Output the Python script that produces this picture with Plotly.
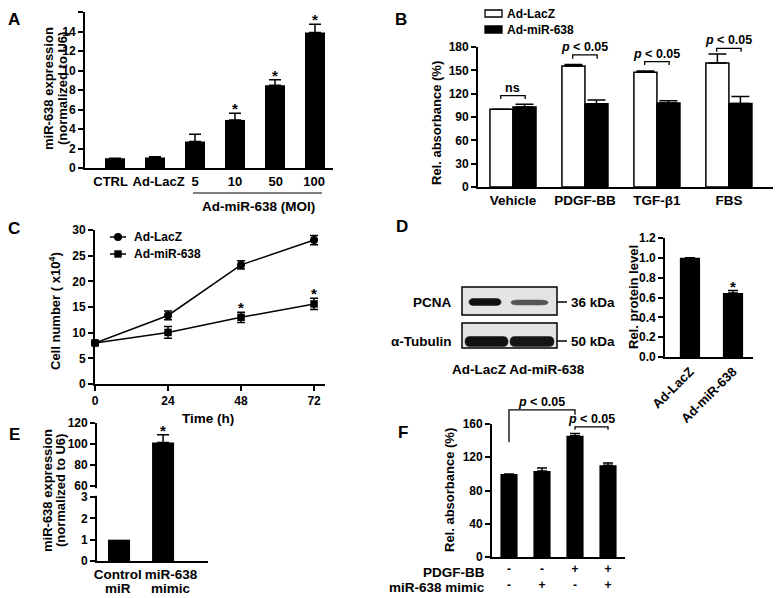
import plotly.graph_objects as go

W, H = 781, 598
OFF = 8  # the page body adds an 8 px margin; layout positions are compensated for it
FONT = "Liberation Sans, Arial, Helvetica, sans-serif"

# ---------------- data ----------------
a_cats = ["CTRL", "Ad-LacZ", "5", "10", "50", "100"]
a_vals = [1.0, 1.08, 2.72, 4.93, 8.5, 13.9]
a_errs = [0.0, 0.08, 0.75, 0.68, 0.55, 0.85]
a_sig = [False, False, False, True, True, True]

b_cats = ["Vehicle", "PDGF-BB", "TGF-β1", "FBS"]
b_lacz = [100, 155.5, 147.5, 159.5]
b_lacz_err = [0, 2, 1.5, 11.5]
b_mir = [103, 107, 108, 107.5]
b_mir_err = [3.5, 5, 3, 9]
b_sig_text = ["ns", "<i>p</i> &lt; 0.05", "<i>p</i> &lt; 0.05", "<i>p</i> &lt; 0.05"]
b_bracket_top = [117.4, 170.0, 161.3, 178.3]
b_bracket_leg = [113.1, 165.0, 157.0, 174.0]

c_time = [0, 24, 48, 72]
c_lacz = [8, 13.35, 23.2, 28.05]
c_lacz_err = [0.4, 0.85, 0.8, 0.9]
c_mir = [8, 10.05, 13.0, 15.6]
c_mir_err = [0.4, 1.15, 1.0, 1.1]
c_sig = [False, False, True, True]

d_cats = ["Ad-LacZ", "Ad-miR-638"]
d_vals = [1.0, 0.645]
d_errs = [0.0, 0.025]
d_sig = [False, True]

e_cats_line1 = ["Control", "miR-638"]
e_cats_line2 = ["miR", "mimic"]
e_vals = [1.0, 101.5]
e_errs = [0.0, 7.3]
e_sig = [False, True]

f_vals = [100, 103.5, 146, 110.5]
f_errs = [0, 3.5, 2.5, 2.5]
f_pdgf = ["-", "-", "+", "+"]
f_mimic = ["-", "+", "-", "+"]
f_row_labels = ["PDGF-BB", "miR-638 mimic"]
# brackets: (x_left, x_right, top, left_leg_bottom, right_leg_bottom)
f_brackets = [(0, 2, 177.0, 138.0, 171.0), (2, 3, 156.5, 153.0, 153.0)]

# label positions along the category axes (layout, not data)
a_label_pos = [-0.11, 1.09, 2, 3, 4.02, 4.98]
e_label_pos = [-0.03, 1.18]

# ---------------- layout helpers ----------------
def fx(px):
    return (px - OFF) / W


def fy(py):
    return 1 - (py - OFF) / H


def FT(size, **kw):
    d = dict(family=FONT, size=size, color="black", weight="bold")
    d.update(kw)
    return d


PANELS = {
    "A": dict(x0=85, x1=333, yt=12, yb=168, xr=[-0.75, 5.45], yr=[0, 16]),
    "B": dict(x0=478, x1=780, yt=47, yb=187, xr=[-0.486, 3.71], yr=[0, 180]),
    "C": dict(x0=95, x1=325, yt=230, yb=384, xr=[0, 75.6], yr=[0, 30]),
    "D": dict(x0=665, x1=753, yt=238, yb=357, xr=[-0.58, 1.465], yr=[0, 1.2]),
    "E": dict(x0=97, x1=208, yt=497, yb=561, xr=[-0.5, 2.02], yr=[0, 3]),
    "E2": dict(x0=97, x1=208, yt=423, yb=497, xr=[-0.5, 2.02], yr=[49.52, 120]),
    "F": dict(x0=492, x1=625, yt=424, yb=557, xr=[-0.515, 3.515], yr=[0, 160]),
}
AX = {"A": "", "B": "2", "C": "3", "D": "4", "E": "5", "E2": "6", "F": "7"}


def to_px(p, xv, yv):
    P = PANELS[p]
    xpx = P["x0"] + (xv - P["xr"][0]) / (P["xr"][1] - P["xr"][0]) * (P["x1"] - P["x0"])
    ypx = P["yb"] - (yv - P["yr"][0]) / (P["yr"][1] - P["yr"][0]) * (P["yb"] - P["yt"])
    return xpx, ypx


def to_paper(p, xv, yv):
    xpx, ypx = to_px(p, xv, yv)
    return fx(xpx), fy(ypx)


base = dict(showline=True, linecolor="black", linewidth=1.8, showgrid=False, zeroline=False,
            ticks="outside", ticklen=5, tickwidth=1.5, tickcolor="black",
            tickfont=FT(12), fixedrange=True, automargin=False)

axes = {}
for p, P in PANELS.items():
    n = AX[p]
    axes["xaxis" + n] = dict(domain=[fx(P["x0"]), fx(P["x1"])], range=P["xr"], anchor="y" + n, **base)
    axes["yaxis" + n] = dict(domain=[fy(P["yb"]), fy(P["yt"])], range=P["yr"], anchor="x" + n, **base)

# panel specific axis settings
axes["xaxis"].update(ticks="", tickvals=a_label_pos, ticktext=a_cats, tickfont=FT(13), tickangle=0)
axes["yaxis"].update(dtick=2, tick0=0)
axes["xaxis2"].update(ticks="", tickvals=list(range(len(b_cats))), ticktext=b_cats, tickfont=FT(13.5), tickangle=0)
axes["yaxis2"].update(dtick=30, tick0=0)
axes["xaxis3"].update(tickvals=c_time, tickangle=0)
axes["yaxis3"].update(dtick=5, tick0=0)
axes["xaxis4"].update(ticks="", tickvals=list(range(len(d_cats))), ticktext=d_cats, tickangle=-45, tickfont=FT(13))
axes["yaxis4"].update(dtick=0.2, tick0=0, tickformat=".1f")
axes["xaxis5"].update(ticks="", tickvals=e_label_pos, ticktext=e_cats_line1, tickfont=FT(13.5), tickangle=0)
axes["yaxis5"].update(dtick=1, tick0=0)
axes["xaxis6"].update(visible=False)
axes["yaxis6"].update(tickvals=[60, 80, 100, 120])
axes["xaxis7"].update(ticks="", tickvals=list(range(len(f_vals))), tickangle=0,
                      ticktext=[f"{a}<br>{b}" for a, b in zip(f_pdgf, f_mimic)], tickfont=FT(12))
axes["yaxis7"].update(dtick=40, tick0=0)


def err(arr, width):
    return dict(type="data", array=arr, arrayminus=[0] * len(arr), symmetric=False,
                color="black", thickness=1.5, width=width)


fig = go.Figure()

# ---- A ----
fig.add_trace(go.Bar(x=list(range(len(a_vals))), y=a_vals, width=0.5, marker=dict(color="black", line=dict(width=0)),
                     error_y=err(a_errs, 6), xaxis="x", yaxis="y", name="A"))
# ---- B ----
bx = list(range(len(b_cats)))
fig.add_trace(go.Bar(x=bx, y=b_lacz, offset=-0.32, width=0.32,
                     marker=dict(color="white", line=dict(color="black", width=1.5)),
                     error_y=err(b_lacz_err, 9), xaxis="x2", yaxis="y2", name="Ad-LacZ"))
fig.add_trace(go.Bar(x=bx, y=b_mir, offset=0.0, width=0.32,
                     marker=dict(color="black", line=dict(color="black", width=1.5)),
                     error_y=err(b_mir_err, 9), xaxis="x2", yaxis="y2", name="Ad-miR-638"))
# ---- C ----
fig.add_trace(go.Scatter(x=c_time, y=c_lacz, mode="lines+markers", cliponaxis=False,
                         line=dict(color="black", width=1.5), marker=dict(symbol="circle", size=8, color="black"),
                         error_y=dict(type="data", array=c_lacz_err, color="black", thickness=1.5, width=4),
                         xaxis="x3", yaxis="y3", name="Ad-LacZ"))
fig.add_trace(go.Scatter(x=c_time, y=c_mir, mode="lines+markers", cliponaxis=False,
                         line=dict(color="black", width=1.5), marker=dict(symbol="square", size=7.5, color="black"),
                         error_y=dict(type="data", array=c_mir_err, color="black", thickness=1.5, width=4),
                         xaxis="x3", yaxis="y3", name="Ad-miR-638"))
# ---- D ----
fig.add_trace(go.Bar(x=list(range(len(d_vals))), y=d_vals, width=0.47, marker=dict(color="black", line=dict(width=0)),
                     error_y=err(d_errs, 5), xaxis="x4", yaxis="y4", name="D"))
# ---- E (broken axis) ----
ex = list(range(len(e_vals)))
fig.add_trace(go.Bar(x=ex, y=e_vals, width=0.5, marker=dict(color="black", line=dict(width=0)),
                     xaxis="x5", yaxis="y5", name="E low"))
fig.add_trace(go.Bar(x=ex, y=e_vals, width=0.5, marker=dict(color="black", line=dict(width=0)),
                     error_y=err(e_errs, 6), xaxis="x6", yaxis="y6", name="E high"))
# ---- F ----
fig.add_trace(go.Bar(x=list(range(len(f_vals))), y=f_vals, width=0.52, marker=dict(color="black", line=dict(width=0)),
                     error_y=err(f_errs, 5), xaxis="x7", yaxis="y7", name="F"))

ann = []
shapes = []


def text_px(x, y, t, size, xanchor="center", yanchor="middle", angle=0, yshift=0, **kw):
    ann.append(dict(x=fx(x), y=fy(y), xref="paper", yref="paper", text=t, showarrow=False,
                    xanchor=xanchor, yanchor=yanchor, textangle=angle, yshift=yshift, font=FT(size, **kw)))


def line_px(x0, y0, x1, y1, w=1.5):
    shapes.append(dict(type="line", xref="paper", yref="paper", x0=fx(x0), y0=fy(y0), x1=fx(x1), y1=fy(y1),
                       line=dict(color="black", width=w)))


def star(p, xv, yv):
    xpx, ypx = to_px(p, xv, yv)
    text_px(xpx, ypx, "*", 15, yanchor="bottom", yshift=-6)


# panel letters (A, B sit against the top edge)
text_px(14, 8, "A", 17, yanchor="top")
text_px(401, 8, "B", 17, yanchor="top")
for L, (x, y) in {"C": (14, 228), "D": (402, 226), "E": (14, 434), "F": (403, 432)}.items():
    text_px(x, y, L, 17)

# A annotations
text_px(48, 89, "miR-638 expression", 13, angle=-90)
text_px(62, 89, "(normalized to U6)", 13, angle=-90)
line_px(193, 193, 322, 193, 1.2)
text_px(258, 206, "Ad-miR-638 (MOI)", 13.5)
for i, s in enumerate(a_sig):
    if s:
        star("A", i, a_vals[i] + a_errs[i])

# B annotations
text_px(437, 123, "Rel. absorbance (%)", 13, angle=-90)
for i in range(len(b_cats)):
    xl, yt = to_paper("B", i - 0.17, b_bracket_top[i])
    xr_, yl = to_paper("B", i + 0.17, b_bracket_leg[i])
    shapes.append(dict(type="path", xref="paper", yref="paper",
                       path=f"M{xl},{yl} L{xl},{yt} L{xr_},{yt} L{xr_},{yl}",
                       line=dict(color="black", width=1.3)))
    cx, cy = to_px("B", i, b_bracket_top[i])
    text_px(cx, cy, b_sig_text[i], 12.5, yanchor="bottom", yshift=-1)
# B legend
shapes.append(dict(type="rect", xref="paper", yref="paper", x0=fx(485), x1=fx(502), y0=fy(17), y1=fy(10),
                   fillcolor="white", line=dict(color="black", width=1.3)))
shapes.append(dict(type="rect", xref="paper", yref="paper", x0=fx(485), x1=fx(502), y0=fy(33), y1=fy(26),
                   fillcolor="black", line=dict(color="black", width=1.3)))
text_px(505, 14, "Ad-LacZ", 12, xanchor="left")
text_px(505, 30, "Ad-miR-638", 12, xanchor="left")

# C annotations
text_px(55, 311, "Cell number ( x10<sup>4</sup>)", 13, angle=-90)
text_px(208, 418, "Time (h)", 13.5)
for i, s in enumerate(c_sig):
    if s:
        star("C", c_time[i], c_mir[i] + c_mir_err[i])
line_px(110, 237, 126, 237, 1.5)
shapes.append(dict(type="circle", xref="paper", yref="paper", x0=fx(114), x1=fx(122), y0=fy(241), y1=fy(233),
                   fillcolor="black", line=dict(color="black", width=0)))
text_px(132, 237, "Ad-LacZ", 12, xanchor="left")
line_px(110, 254, 126, 254, 1.5)
shapes.append(dict(type="rect", xref="paper", yref="paper", x0=fx(114.3), x1=fx(121.7), y0=fy(257.7), y1=fy(250.3),
                   fillcolor="black", line=dict(color="black", width=0)))
text_px(132, 254, "Ad-miR-638", 12, xanchor="left")

# D blot (illustration)
for (y0, y1) in [(287, 315), (323, 348)]:
    shapes.append(dict(type="rect", xref="paper", yref="paper", x0=fx(462), x1=fx(557), y0=fy(y1), y1=fy(y0),
                       fillcolor="#e4e4e4", line=dict(color="black", width=1.5)))


def band(x0, x1, y0, y1, color, r=5):
    ym = (y0 + y1) / 2
    pts = (f"M{fx(x0 + r)},{fy(y0)} L{fx(x1 - r)},{fy(y0)} Q{fx(x1)},{fy(y0)} {fx(x1)},{fy(ym)} "
           f"Q{fx(x1)},{fy(y1)} {fx(x1 - r)},{fy(y1)} L{fx(x0 + r)},{fy(y1)} Q{fx(x0)},{fy(y1)} {fx(x0)},{fy(ym)} "
           f"Q{fx(x0)},{fy(y0)} {fx(x0 + r)},{fy(y0)} Z")
    shapes.append(dict(type="path", xref="paper", yref="paper", path=pts, fillcolor=color,
                       line=dict(color=color, width=0.5)))


band(469, 501, 298.5, 305.5, "#111111")
band(511, 548, 300, 305, "#555555", r=7)
band(465, 508, 336.5, 346.5, "#111111")
band(510, 554, 336.5, 346.5, "#151515")
text_px(454, 302, "PCNA", 13.5, xanchor="right")
text_px(454, 341, "α-Tubulin", 13.5, xanchor="right")
line_px(557, 302, 567, 302, 1.5)
line_px(557, 341, 567, 341, 1.5)
text_px(569, 302, "36 kDa", 13.5, xanchor="left")
text_px(569, 341, "50 kDa", 13.5, xanchor="left")
text_px(519, 369, "Ad-LacZ Ad-miR-638", 13.5)
text_px(633, 297, "Rel. protein level", 13, angle=-90)
for i, s in enumerate(d_sig):
    if s:
        star("D", i, d_vals[i] + d_errs[i])

# E annotations
text_px(47, 491, "miR-638 expression", 13, angle=-90)
text_px(60, 491, "(normalized to U6)", 13, angle=-90)
for i, t in enumerate(e_cats_line2):
    xpx, _ = to_px("E", e_label_pos[i], 0)
    text_px(xpx, 588, t, 13.5)
for i, s in enumerate(e_sig):
    if s:
        star("E2", i, e_vals[i] + e_errs[i])
# axis break gap
shapes.append(dict(type="rect", xref="paper", yref="paper", x0=fx(94.5), x1=fx(98.5), y0=fy(495.8), y1=fy(488.2),
                   fillcolor="white", line=dict(width=0), layer="above"))

# F annotations
text_px(449, 490, "Rel. absorbance (%)", 13, angle=-90)
text_px(487, 572, f_row_labels[0], 13.5, xanchor="right")
text_px(487, 587, f_row_labels[1], 13.5, xanchor="right")
for (xa, xb, top, la, lb) in f_brackets:
    x0p, ytp = to_paper("F", xa, top)
    _, y0p = to_paper("F", xa, la)
    x1p, y1p = to_paper("F", xb, lb)
    shapes.append(dict(type="path", xref="paper", yref="paper",
                       path=f"M{x0p},{y0p} L{x0p},{ytp} L{x1p},{ytp} L{x1p},{y1p}",
                       line=dict(color="black", width=1.3)))
    cx, cy = to_px("F", (xa + xb) / 2, top)
    text_px(cx, cy, "<i>p</i> &lt; 0.05", 12.5, yanchor="bottom", yshift=-1)

fig.update_layout(
    width=W, height=H, margin=dict(l=0, r=0, t=0, b=0, autoexpand=False),
    paper_bgcolor="white", plot_bgcolor="white",
    showlegend=False, barmode="overlay",
    font=FT(12),
    annotations=ann, shapes=shapes,
    **axes,
)

fig.write_html("out.html")
